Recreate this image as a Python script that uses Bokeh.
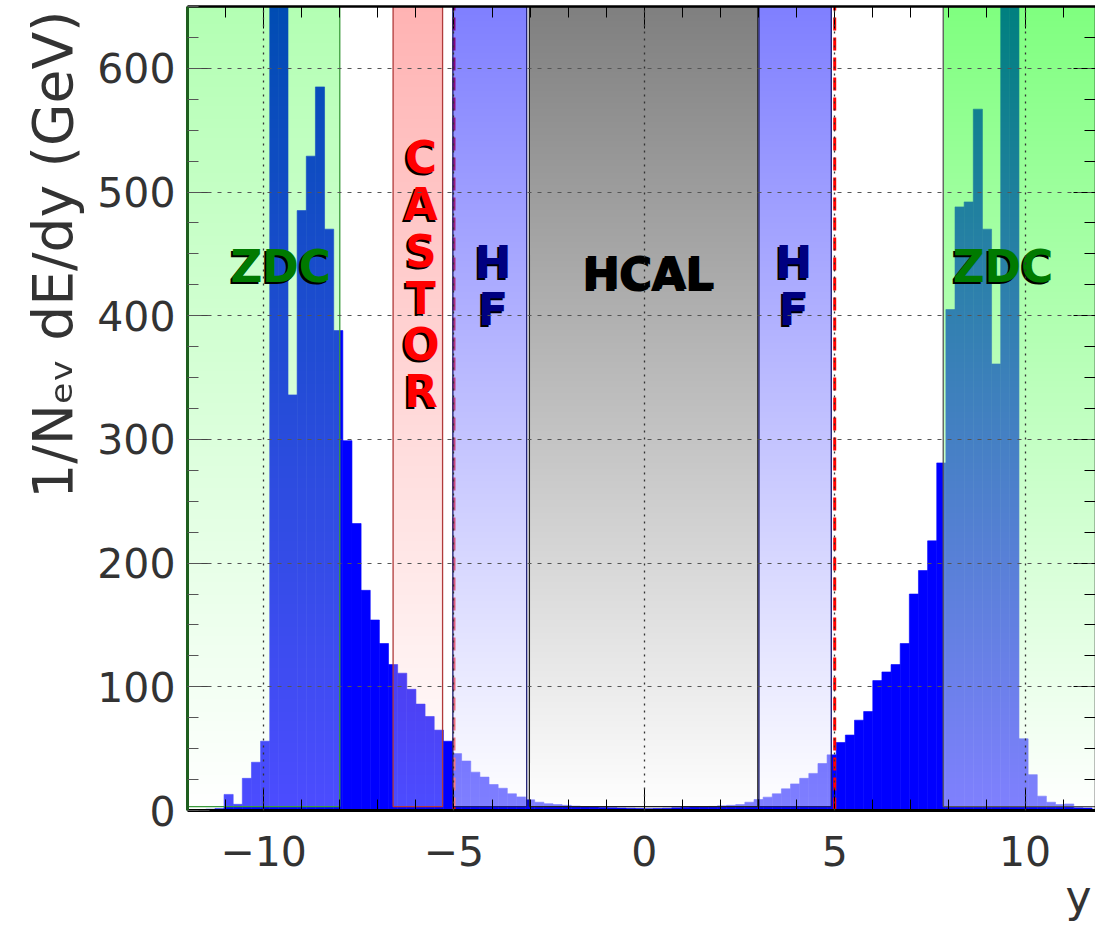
import numpy as np
from bokeh.plotting import figure
from bokeh.models import ColumnDataSource, LinearAxis, FixedTicker, Label, Range1d, Title
from bokeh.embed import file_html
from bokeh.resources import INLINE

# ---- energy flow per unit rapidity, 100 bins over -12 < y < 12 ----
Y_LO, Y_HI, N_BINS = -12.0, 12.0, 100
energy = [
    0.8, 0.8, 1.0, 1.5, 13, 5, 26, 39, 56, 690,
    680, 336, 485, 529, 585, 470, 388, 299, 232, 178,
    154, 135, 118, 111, 98, 86, 76, 65, 56, 46,
    40, 31, 27, 21, 18, 13.5, 11, 8.6, 6.7, 5.5,
    4.8, 4.2, 3.6, 3.2, 2.8, 2.5, 2.2, 2.0, 1.8, 1.6,
    1.5, 1.6, 1.8, 2.2, 2.6, 2.8, 3.0, 3.3, 3.8, 4.2,
    4.8, 6.7, 8.9, 10.8, 13.5, 17.5, 21.5, 26, 30, 38,
    45, 55, 61, 73, 80, 105, 112, 118, 135, 175,
    194, 218, 281, 405, 488, 492, 567, 470, 361, 700,
    690, 58, 29, 11.6, 6.7, 4.8, 5.3, 2.2, 2.0, 1.0,
]

# |y| = 5 acceptance markers
acceptance_edges = [-5.0, 5.0]

# detector coverage in rapidity
region_lo = [-12.0, -6.6, -5.03, -3.02, 3.01, 7.85]
region_hi = [-8.0, -5.3, -3.09, 2.98, 4.91, 12.0]
region_rgb = [(0, 255, 0), (255, 0, 0), (0, 0, 255), (0, 0, 0), (0, 0, 255), (0, 255, 0)]
region_alpha = [0.3, 0.3, 0.5, 0.5, 0.5, 0.5]
region_edge = ["#3a9a3a", "#b03a3a", "#1a1a70", "#202020", "#1a1a70", "#555555"]

x_ticks = [-10, -5, 0, 5, 10]
x_tick_labels = ["\u221210", "\u22125", "0", "5", "10"]
y_ticks = [0, 100, 200, 300, 400, 500, 600]

E_MAX = 650
BAND_FLOOR = 3.2
FONT = "DejaVu Sans"
INK = "#333333"

p = figure(width=1095, height=934, x_range=Range1d(-12, 11.85), y_range=Range1d(0, E_MAX),
           output_backend="svg", toolbar_location=None,
           min_border_left=187, min_border_right=0, min_border_top=6, min_border_bottom=124)
p.outline_line_color = None
p.background_fill_color = "white"

xticker = FixedTicker(ticks=x_ticks, minor_ticks=list(range(-12, 13)))
yticker = FixedTicker(ticks=y_ticks, minor_ticks=list(range(0, E_MAX + 1, 25)))

# ---- histogram ----
edges = np.linspace(Y_LO, Y_HI, N_BINS + 1)
hist = ColumnDataSource(dict(left=edges[:-1], right=edges[1:], top=energy))
p.quad(left="left", right="right", bottom=0, top="top", source=hist,
       fill_color="#0000ff", line_color="#0000ff", line_width=0.6)

# acceptance lines sit under the detector bands
p.segment(x0=acceptance_edges, y0=[0, 0], x1=acceptance_edges, y1=[E_MAX, E_MAX],
          line_color="#ff0000", line_width=3, line_dash="13 7")

# ---- detector bands: translucent vertical gradient fading to white at the bottom ----
rows = 800
level = BAND_FLOOR + (np.arange(rows) + 0.5) / rows * (E_MAX - BAND_FLOOR)
frac = level / E_MAX
images = []
for rgb, a in zip(region_rgb, region_alpha):
    img = np.empty((rows, 1), dtype=np.uint32)
    px = img.view(dtype=np.uint8).reshape((rows, 1, 4))
    for ch in range(3):
        px[:, 0, ch] = np.round(rgb[ch] * frac + 255 * (1 - frac)).astype(np.uint8)
    px[:, 0, 3] = int(round(a * 255))
    images.append(img)
widths = [hi - lo for lo, hi in zip(region_lo, region_hi)]
p.image_rgba(image=images, x=region_lo, y=[BAND_FLOOR] * len(images), dw=widths,
             dh=[E_MAX - BAND_FLOOR] * len(images))
p.quad(left=region_lo, right=region_hi, bottom=BAND_FLOOR, top=E_MAX,
       fill_color=None, line_color=region_edge, line_width=1.3)

# ---- axes ----
for ax in (p.xaxis[0], p.yaxis[0]):
    ax.major_tick_in = 22
    ax.major_tick_out = 0
    ax.minor_tick_in = 11
    ax.minor_tick_out = 0
    ax.major_label_text_font = FONT
    ax.major_label_text_font_size = "41px"
    ax.major_label_text_color = INK
    ax.axis_label = None

p.xaxis.ticker = xticker
p.xaxis.major_label_overrides = dict(zip(x_ticks, x_tick_labels))
p.xaxis.major_label_standoff = 25
p.xaxis.axis_line_width = 3
p.xaxis.axis_line_color = "black"
p.xaxis.major_tick_line_color = "black"
p.xaxis.minor_tick_line_color = "black"

p.yaxis.ticker = yticker
p.yaxis.major_label_standoff = 12
p.yaxis.axis_line_width = 3
p.yaxis.axis_line_color = "#1e5e1e"
p.yaxis.major_tick_line_color = "#444444"
p.yaxis.minor_tick_line_color = "#555555"

top_ax = LinearAxis(ticker=xticker, major_label_text_font_size="0px",
                    major_label_overrides={t: "" for t in x_ticks},
                    major_tick_in=22, major_tick_out=0, minor_tick_in=11, minor_tick_out=0,
                    axis_line_width=2.5, major_label_standoff=0)
p.add_layout(top_ax, "above")
right_ax = LinearAxis(ticker=yticker, major_label_text_font_size="0px",
                      major_label_overrides={t: "" for t in y_ticks},
                      major_tick_in=22, major_tick_out=0, minor_tick_in=11, minor_tick_out=0,
                      axis_line_width=1.5, major_label_standoff=0)
p.add_layout(right_ax, "right")

# ---- axis titles ----
p.add_layout(Title(text="1/N\u2091\u1d65 dE/dy (GeV)", align="right", offset=4, standoff=20,
                   text_font=FONT, text_font_size="55px", text_font_style="normal",
                   text_color=INK), "left")
p.add_layout(Title(text="y", align="right", offset=4, standoff=0,
                   text_font=FONT, text_font_size="44px", text_font_style="normal",
                   text_color=INK), "below")

# ---- grid above the bands ----
p.xgrid.ticker = xticker
p.xgrid.grid_line_color = "#333333"
p.xgrid.grid_line_dash = "2 5"
p.xgrid.grid_line_width = 1.3
p.xgrid.level = "overlay"
p.ygrid.ticker = yticker
p.ygrid.grid_line_color = "#555555"
p.ygrid.grid_line_dash = "4 6"
p.ygrid.grid_line_width = 1.2
p.ygrid.level = "overlay"


def tag(x, y, text, color, size="44px"):
    for dx, dy, c in ((-2, -2, "black"), (0, 0, color)):
        p.add_layout(Label(x=x, y=y, text=text, x_offset=dx, y_offset=dy, text_color=c,
                           text_font=FONT, text_font_size=size, text_font_style="bold",
                           text_align="center", text_baseline="middle"))


tag(-9.55, 440, "ZDC", "#007a00")
tag(9.42, 440, "ZDC", "#007a00")
tag(0.13, 434, "HCAL", "#000000")
for hx in (-3.97, 3.93):
    tag(hx, 443, "H", "#000080")
    tag(hx, 405, "F", "#000080")
castor_y = 528 - 37.9 * np.arange(6)
for letter, cy in zip("CASTOR", castor_y):
    tag(-5.87, cy, letter, "#ff0000")

open("out.html", "w").write(file_html(p, INLINE))
